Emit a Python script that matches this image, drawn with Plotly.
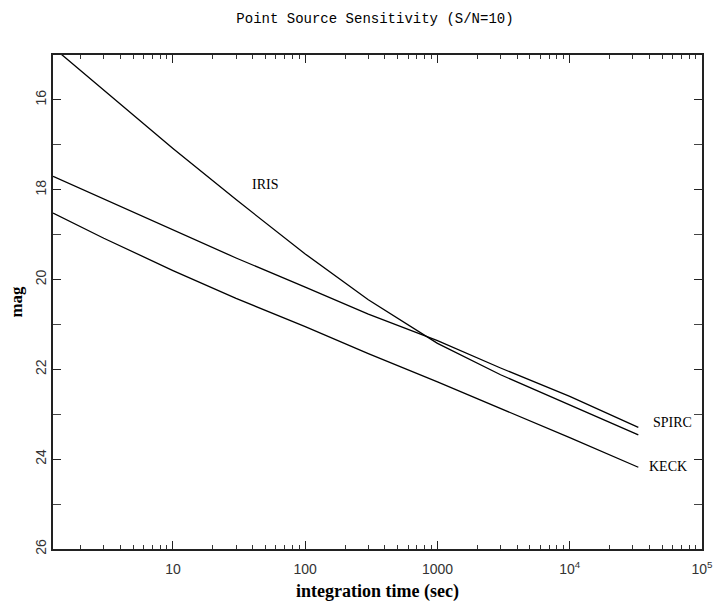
import math
import plotly.graph_objects as go

# integration time (sec) and limiting magnitude (S/N=10)
iris_t = [1.4, 3, 10, 30, 100, 300, 1000, 3000, 10000, 33000]
iris_mag = [14.96, 15.78, 17.08, 18.22, 19.43, 20.45, 21.42, 22.12, 22.80, 23.46]

spirc_t = [1.24, 10, 30, 100, 300, 1000, 3000, 10000, 33000]
spirc_mag = [17.70, 18.90, 19.52, 20.17, 20.77, 21.36, 21.97, 22.60, 23.29]

keck_t = [1.24, 3, 10, 30, 100, 300, 1000, 3000, 10000, 33000]
keck_mag = [18.52, 19.08, 19.80, 20.42, 21.05, 21.65, 22.28, 22.87, 23.52, 24.18]

labels = ["IRIS", "SPIRC", "KECK"]
label_t = [50, 60000, 55000]
label_mag = [17.89, 23.18, 24.16]

x_tickvals = [10, 100, 1000, 10000, 100000]
x_ticktext = ["10", "100", "1000", "10<sup>4</sup>", "10<sup>5</sup>"]
x_minor_vals = [m * 10 ** d for d in range(0, 5) for m in range(2, 10)]
y_tickvals = [16, 18, 20, 22, 24, 26]
y_minor_vals = [15, 17, 19, 21, 23, 25]

x_range_log = [0.093, 5]

# all x ticks on one axis: majors labelled, minors blank
all_x_vals = sorted(x_tickvals + x_minor_vals)
all_x_text = [x_ticktext[x_tickvals.index(v)] if v in x_tickvals else "" for v in all_x_vals]

fig = go.Figure()
for t, m, name in [(iris_t, iris_mag, "IRIS"), (spirc_t, spirc_mag, "SPIRC"), (keck_t, keck_mag, "KECK")]:
    fig.add_trace(go.Scatter(x=t, y=m, mode="lines", name=name,
                             line=dict(color="black", width=1.3)))

# invisible trace anchoring the major-tick overlay axis
fig.add_trace(go.Scatter(x=[keck_t[0]], y=[keck_mag[0]], xaxis="x2", yaxis="y",
                         mode="markers", marker=dict(opacity=0), hoverinfo="skip",
                         showlegend=False))

for txt, t, m in zip(labels, label_t, label_mag):
    fig.add_annotation(x=math.log10(t), y=m, text=txt, showarrow=False,
                       xref="x", yref="y",
                       font=dict(family="Liberation Serif", size=14, color="black"))

tick_font = dict(family="Liberation Sans", size=14, color="#333333")
fig.update_layout(
    width=717, height=602,
    margin=dict(l=53, r=15, t=55, b=53),
    paper_bgcolor="white", plot_bgcolor="white",
    showlegend=False,
    title=dict(text="Point Source Sensitivity (S/N=10)", x=0.523, xanchor="center",
               y=0.97, yanchor="middle",
               font=dict(family="Liberation Mono", size=14, color="black")),
    xaxis=dict(type="log", range=x_range_log, showgrid=False, zeroline=False, automargin=False,
               showline=True, linecolor="#222222", linewidth=1.5, mirror="allticks",
               ticks="inside", ticklen=4, tickcolor="#333333", tickwidth=1,
               tickmode="array", tickvals=all_x_vals, ticktext=all_x_text, tickfont=tick_font,
               ticklabelstandoff=6,
               title=dict(text="<b>integration time (sec)</b>", standoff=18,
                          font=dict(family="Liberation Serif", size=18, color="black"))),
    xaxis2=dict(type="log", range=x_range_log, overlaying="x", anchor="y", side="bottom",
                showgrid=False, zeroline=False, automargin=False, showline=False,
                mirror="allticks", ticks="inside", ticklen=8, tickcolor="#222222", tickwidth=1,
                tickmode="array", tickvals=x_tickvals, showticklabels=False),
    yaxis=dict(range=[26, 15], showgrid=False, zeroline=False, automargin=False,
               showline=True, linecolor="#222222", linewidth=1.5, mirror="allticks",
               ticks="inside", ticklen=8, tickcolor="#222222", tickwidth=1,
               tickvals=y_tickvals, tickangle=-90, tickfont=tick_font,
               minor=dict(ticks="inside", ticklen=4, tickcolor="#444444",
                          tickvals=y_minor_vals, showgrid=False),
               title=dict(text="<b>mag</b>", standoff=6,
                          font=dict(family="Liberation Serif", size=17, color="black"))),
)

fig.write_html("out.html")
